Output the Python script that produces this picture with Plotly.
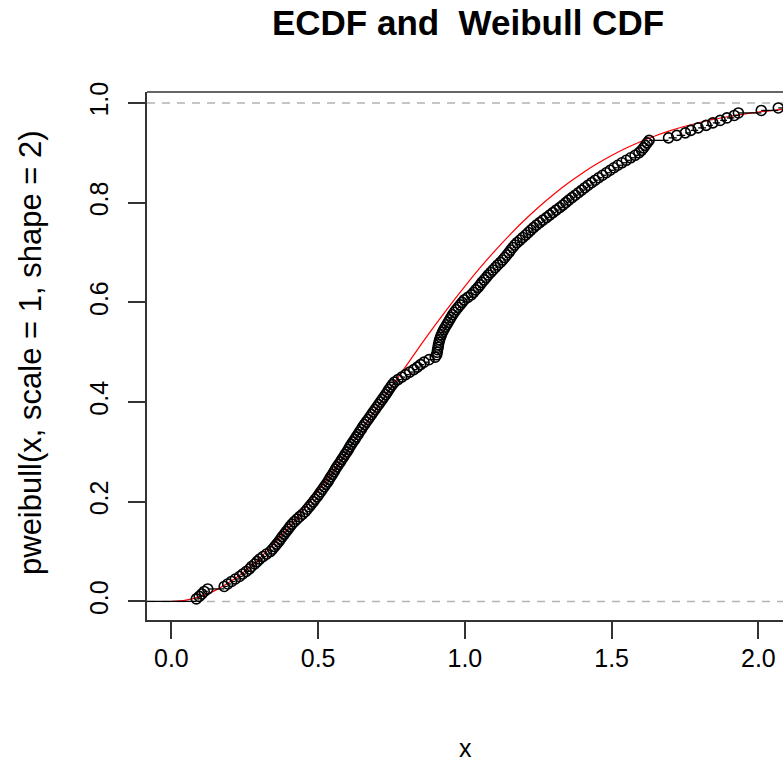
import plotly.graph_objects as go

# ---- data ----
# sorted sample (n = 200) whose ECDF is drawn
SAMPLE_X = [
    0.085, 0.095, 0.104, 0.112, 0.124,
    0.180, 0.192, 0.205, 0.218, 0.232, 0.243, 0.255, 0.266, 0.273, 0.284,
    0.292, 0.301, 0.312, 0.324, 0.337, 0.345, 0.352, 0.359, 0.366, 0.372,
    0.378, 0.385, 0.391, 0.398, 0.404, 0.411, 0.419, 0.428, 0.437, 0.447,
    0.456, 0.463, 0.470, 0.477, 0.484, 0.490, 0.497, 0.503, 0.509, 0.515,
    0.521, 0.527, 0.533, 0.538, 0.543, 0.549, 0.554, 0.559, 0.564, 0.570,
    0.576, 0.581, 0.587, 0.592, 0.598, 0.603, 0.608, 0.613, 0.619, 0.625,
    0.630, 0.636, 0.641, 0.647, 0.652, 0.658, 0.664, 0.670, 0.676, 0.682,
    0.688, 0.694, 0.700, 0.706, 0.712, 0.718, 0.724, 0.730, 0.736, 0.741,
    0.747, 0.753, 0.760,
    0.772, 0.785, 0.798, 0.812, 0.826, 0.838, 0.849, 0.861, 0.878, 0.899,
    0.904, 0.906, 0.907, 0.909, 0.910, 0.912, 0.914, 0.917, 0.920, 0.924,
    0.928, 0.933, 0.938, 0.943, 0.948, 0.953, 0.958, 0.964, 0.970, 0.977,
    0.984, 0.991, 0.998, 1.010, 1.022, 1.030, 1.037, 1.045, 1.052, 1.058,
    1.066, 1.073, 1.080, 1.088, 1.096, 1.104, 1.112, 1.121, 1.129, 1.136,
    1.143, 1.150, 1.156, 1.163, 1.170, 1.178, 1.188, 1.197, 1.207, 1.216,
    1.225, 1.234, 1.244, 1.255, 1.266, 1.278, 1.289, 1.300, 1.311, 1.323,
    1.334, 1.344, 1.354, 1.365, 1.376, 1.387, 1.398, 1.409, 1.420, 1.432,
    1.444, 1.456, 1.469, 1.482, 1.495, 1.508, 1.521, 1.535, 1.550, 1.565,
    1.580, 1.593, 1.602, 1.609, 1.615, 1.621, 1.628,
    1.694, 1.722, 1.751, 1.770, 1.795, 1.822, 1.845, 1.870, 1.893, 1.918,
    1.932, 2.010, 2.068, 2.160, 2.330,
]

# Weibull CDF (scale = 1, shape = 2) read at regular x steps
CURVE_X = [0.00, 0.05, 0.10, 0.15, 0.20, 0.25, 0.30, 0.35, 0.40, 0.45,
           0.50, 0.55, 0.60, 0.65, 0.70, 0.75, 0.80, 0.85, 0.90, 0.95,
           1.00, 1.05, 1.10, 1.15, 1.20, 1.25, 1.30, 1.35, 1.40, 1.45,
           1.50, 1.55, 1.60, 1.65, 1.70, 1.75, 1.80, 1.85, 1.90, 1.95,
           2.00, 2.05, 2.10, 2.15]
CURVE_Y = [0.0000, 0.0025, 0.0100, 0.0222, 0.0392, 0.0606, 0.0861, 0.1153,
           0.1479, 0.1833, 0.2212, 0.2610, 0.3023, 0.3447, 0.3874, 0.4302,
           0.4727, 0.5145, 0.5551, 0.5944, 0.6321, 0.6680, 0.7018, 0.7335,
           0.7631, 0.7904, 0.8155, 0.8384, 0.8591, 0.8779, 0.8946, 0.9095,
           0.9227, 0.9343, 0.9444, 0.9532, 0.9608, 0.9674, 0.9729, 0.9777,
           0.9817, 0.9850, 0.9878, 0.9902]

REF_LINES = [0.0, 1.0]
X_TICKS = [0.0, 0.5, 1.0, 1.5, 2.0]
Y_TICKS = [0.0, 0.2, 0.4, 0.6, 0.8, 1.0]

TITLE = "ECDF and\u00a0\u00a0Weibull CDF"
X_LABEL = "x"
Y_LABEL = "pweibull(x, scale = 1, shape = 2)"

# ---- build ECDF ----
n = len(SAMPLE_X)
ecdf_y = [(i + 1) / n for i in range(n)]
seg_x, seg_y = [SAMPLE_X[0] - 1.0, SAMPLE_X[0], None], [0.0, 0.0, None]
for i in range(n):
    nxt = SAMPLE_X[i + 1] if i < n - 1 else SAMPLE_X[i] + 1.0
    seg_x += [SAMPLE_X[i], nxt, None]
    seg_y += [ecdf_y[i], ecdf_y[i], None]

FONT = "Liberation Sans, Arial, sans-serif"
AX = "#333333"

fig = go.Figure()
fig.add_trace(go.Scatter(x=CURVE_X, y=CURVE_Y, mode="lines", line_shape="spline",
                         line=dict(color="#ff0000", width=1.2), hoverinfo="skip"))
fig.add_trace(go.Scatter(x=seg_x, y=seg_y, mode="lines",
                         line=dict(color="black", width=1.3), hoverinfo="skip"))
fig.add_trace(go.Scatter(x=SAMPLE_X, y=ecdf_y, mode="markers",
                         marker=dict(symbol="circle-open", size=10,
                                     color="black", line=dict(width=1.6))))

for h in REF_LINES:
    fig.add_shape(type="line", xref="paper", x0=0, x1=1, yref="y", y0=h, y1=h,
                  line=dict(color="#b3b3b3", width=1.5, dash="8px,7px"), layer="below")
# top frame edge
fig.add_shape(type="line", xref="paper", yref="paper", x0=0, x1=1, y0=1, y1=1,
              line=dict(color=AX, width=1.5))

fig.update_layout(
    width=783, height=761,
    margin=dict(l=147, r=0, t=92, b=141),
    paper_bgcolor="white", plot_bgcolor="white",
    showlegend=False,
    font=dict(family=FONT, color="black", size=24),
    title=dict(text="<b>" + TITLE + "</b>", x=468 / 783, xanchor="center",
               y=1 - 23 / 761, yanchor="middle", xref="container", yref="container",
               font=dict(family=FONT, size=35, color="black")),
)
fig.update_xaxes(range=[-0.083, 2.084], tickvals=X_TICKS, tickformat=".1f",
                 showgrid=False, zeroline=False, showline=True, linecolor=AX, linewidth=1.5,
                 mirror=False, ticks="outside", ticklen=17, tickwidth=1.5, tickcolor=AX,
                 ticklabelstandoff=-2, tickfont=dict(size=25))
fig.update_yaxes(range=[-0.0373, 1.022], tickvals=Y_TICKS, tickformat=".1f",
                 showgrid=False, zeroline=False, showline=True, linecolor=AX, linewidth=1.5,
                 mirror=False, ticks="outside", ticklen=17, tickwidth=1.5, tickcolor=AX,
                 tickangle=-90, ticklabelstandoff=10, tickfont=dict(size=25))

fig.add_annotation(text=X_LABEL, xref="paper", yref="paper", x=0.5, y=0,
                   xshift=465 - (147 + 318), yshift=-(748 - 620), xanchor="center",
                   yanchor="middle", showarrow=False, font=dict(size=25))
fig.add_annotation(text=Y_LABEL, xref="paper", yref="paper", x=0, y=0.5,
                   xshift=30 - 147, yshift=3, textangle=-90, xanchor="center",
                   yanchor="middle", showarrow=False, font=dict(size=31))

fig.write_html("out.html", config={"displayModeBar": False},
               post_script="document.body.style.margin='0';")
